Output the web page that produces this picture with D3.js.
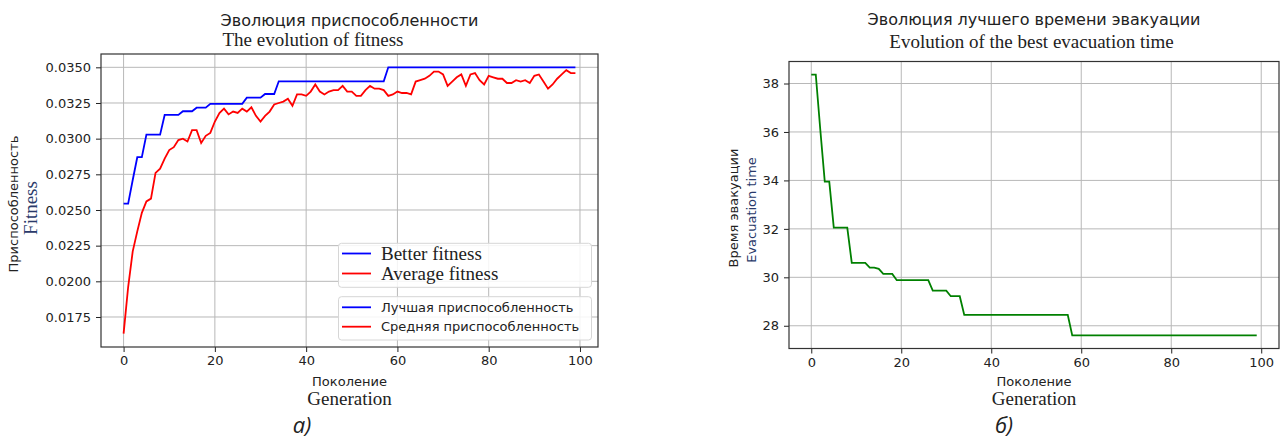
<!DOCTYPE html>
<html lang="ru">
<head>
<meta charset="utf-8">
<title>fitness_evolution</title>
<script src="https://cdn.jsdelivr.net/npm/d3@7"></script>
<style>
    body { margin: 0; background: #fff; }
    svg text { font-family: "DejaVu Sans", sans-serif; fill: #222; }
    .serif { font-family: "Liberation Serif", serif; }
    .tick line { stroke: #222; }
</style>
</head>
<body>
<script>

    // values, one per generation 0..99
    var generations = d3.range(0, 100);

    var bestFitness = [
        0.02545, 0.02545, 0.0271, 0.0287, 0.0287, 0.03028, 0.03028, 0.03028, 0.03028, 0.03166,
        0.03166, 0.03166, 0.03166, 0.03192, 0.03192, 0.03192, 0.03217, 0.03217, 0.03217, 0.03244,
        0.03244, 0.03244, 0.03244, 0.03244, 0.03244, 0.03244, 0.03244, 0.03287, 0.03287, 0.03287,
        0.03287, 0.03313, 0.03313, 0.03313, 0.03402, 0.03402, 0.03402, 0.03402, 0.03402, 0.03402,
        0.03402, 0.03402, 0.03402, 0.03402, 0.03402, 0.03402, 0.03402, 0.03402, 0.03402, 0.03402,
        0.03402, 0.03402, 0.03402, 0.03402, 0.03402, 0.03402, 0.03402, 0.03402, 0.0350, 0.0350,
        0.0350, 0.0350, 0.0350, 0.0350, 0.0350, 0.0350, 0.0350, 0.0350, 0.0350, 0.0350,
        0.0350, 0.0350, 0.0350, 0.0350, 0.0350, 0.0350, 0.0350, 0.0350, 0.0350, 0.0350,
        0.0350, 0.0350, 0.0350, 0.0350, 0.0350, 0.0350, 0.0350, 0.0350, 0.0350, 0.0350,
        0.0350, 0.0350, 0.0350, 0.0350, 0.0350, 0.0350, 0.0350, 0.0350, 0.0350, 0.0350
    ];

    var avgFitness = [
        0.01633, 0.0196, 0.0221, 0.0235, 0.0248, 0.0256, 0.0258, 0.0276, 0.0279, 0.0286,
        0.0292, 0.0294, 0.0299, 0.0300, 0.0298, 0.0306, 0.0306, 0.0297, 0.0302, 0.0304,
        0.0312, 0.0318, 0.0321, 0.0317, 0.0319, 0.0318, 0.0321, 0.0319, 0.0322, 0.0316,
        0.0312, 0.0316, 0.0319, 0.0324, 0.0325, 0.0326, 0.0328, 0.0323, 0.0331, 0.0331,
        0.0330, 0.0333, 0.0338, 0.0333, 0.0331, 0.0333, 0.0334, 0.0334, 0.0337, 0.0333,
        0.0333, 0.0330, 0.0330, 0.0334, 0.0337, 0.0335, 0.0335, 0.0334, 0.0330, 0.0331,
        0.0333, 0.0332, 0.0332, 0.0331, 0.0340, 0.0341, 0.0342, 0.0344, 0.0347, 0.0347,
        0.0345, 0.0337, 0.0340, 0.0343, 0.0345, 0.0337, 0.0345, 0.0346, 0.0341, 0.0338,
        0.0344, 0.0343, 0.0342, 0.0342, 0.0339, 0.0339, 0.0341, 0.0340, 0.0341, 0.0339,
        0.0344, 0.0345, 0.0340, 0.0335, 0.0338, 0.0342, 0.0345, 0.0348, 0.0346, 0.0346
    ];

    var bestTime = [
        38.37, 38.37, 36.1, 33.95, 33.95, 32.05, 32.05, 32.05, 32.05, 30.6,
        30.6, 30.6, 30.6, 30.4, 30.4, 30.35, 30.14, 30.14, 30.14, 29.88,
        29.88, 29.88, 29.88, 29.88, 29.88, 29.88, 29.88, 29.45, 29.45, 29.45,
        29.45, 29.22, 29.22, 29.22, 28.45, 28.45, 28.45, 28.45, 28.45, 28.45,
        28.45, 28.45, 28.45, 28.45, 28.45, 28.45, 28.45, 28.45, 28.45, 28.45,
        28.45, 28.45, 28.45, 28.45, 28.45, 28.45, 28.45, 28.45, 27.6, 27.6,
        27.6, 27.6, 27.6, 27.6, 27.6, 27.6, 27.6, 27.6, 27.6, 27.6,
        27.6, 27.6, 27.6, 27.6, 27.6, 27.6, 27.6, 27.6, 27.6, 27.6,
        27.6, 27.6, 27.6, 27.6, 27.6, 27.6, 27.6, 27.6, 27.6, 27.6,
        27.6, 27.6, 27.6, 27.6, 27.6, 27.6, 27.6, 27.6, 27.6, 27.6
    ];

    var xTicks = [0, 20, 40, 60, 80, 100];
    var fitnessTicks = [0.0175, 0.0200, 0.0225, 0.0250, 0.0275, 0.0300, 0.0325, 0.0350];
    var timeTicks = [28, 30, 32, 34, 36, 38];

    var legendEn = ["Better fitness", "Average fitness"];
    var legendRu = ["Лучшая приспособленность", "Средняя приспособленность"];

    var svg = d3.select("body").append("svg")
        .attr("width", 1280)
        .attr("height", 438);

    // matplotlib style 5% margins
    function padded(ext) {
        var m = (ext[1] - ext[0]) * 0.05;
        return [ext[0] - m, ext[1] + m];
    }

    function panel(box, yDomain, yTicks, yFmt) {
        var x = d3.scaleLinear().domain(padded([0, 99])).range([box.x0, box.x1]);
        var y = d3.scaleLinear().domain(padded(yDomain)).range([box.y1, box.y0]);
        var g = svg.append("g");

        // grid
        g.selectAll("line.vg").data(xTicks).enter().append("line")
            .attr("x1", d => x(d)).attr("x2", d => x(d))
            .attr("y1", box.y0).attr("y2", box.y1)
            .attr("stroke", "#b8b8b8").attr("stroke-width", 1);
        g.selectAll("line.hg").data(yTicks).enter().append("line")
            .attr("x1", box.x0).attr("x2", box.x1)
            .attr("y1", d => y(d)).attr("y2", d => y(d))
            .attr("stroke", "#b8b8b8").attr("stroke-width", 1);

        var ax = g.append("g")
            .attr("transform", "translate(0," + box.y1 + ")")
            .call(d3.axisBottom(x).tickValues(xTicks).tickFormat(d3.format("d"))
                .tickSize(5).tickPadding(4).tickSizeOuter(0));
        var ay = g.append("g")
            .attr("transform", "translate(" + box.x0 + ",0)")
            .call(d3.axisLeft(y).tickValues(yTicks).tickFormat(yFmt)
                .tickSize(5).tickPadding(5).tickSizeOuter(0));
        [ax, ay].forEach(a => {
            a.select(".domain").remove();
            a.selectAll("text").attr("font-size", 13).attr("font-family", "DejaVu Sans").attr("fill", "#222");
        });

        return { g: g, x: x, y: y };
    }

    // ---- left: fitness ----
    var L = { x0: 101, x1: 598, y0: 54, y1: 347 };
    var left = panel(L, [d3.min(avgFitness), d3.max(bestFitness)], fitnessTicks, d3.format(".4f"));

    var lineFit = d3.line().x((d, i) => left.x(generations[i])).y(d => left.y(d));
    left.g.append("path").datum(bestFitness).attr("d", lineFit)
        .attr("fill", "none").attr("stroke", "#0000ff").attr("stroke-width", 1.8);
    left.g.append("path").datum(avgFitness).attr("d", lineFit)
        .attr("fill", "none").attr("stroke", "#ff0000").attr("stroke-width", 1.8);

    left.g.append("rect").attr("x", L.x0).attr("y", L.y0)
        .attr("width", L.x1 - L.x0).attr("height", L.y1 - L.y0)
        .attr("fill", "none").attr("stroke", "#333").attr("stroke-width", 1.2);

    // two stacked legends
    function legend(y0, h, labels, rowY, serif) {
        var lg = svg.append("g");
        lg.append("rect").attr("x", 338.5).attr("y", y0).attr("width", 253).attr("height", h)
            .attr("rx", 3).attr("fill", "#fff").attr("fill-opacity", 0.85)
            .attr("stroke", "#d6d6d6").attr("stroke-width", 1);
        var colors = ["#0000ff", "#ff0000"];
        labels.forEach((t, i) => {
            lg.append("line").attr("x1", 342).attr("x2", 371)
                .attr("y1", rowY[i]).attr("y2", rowY[i])
                .attr("stroke", colors[i]).attr("stroke-width", 1.8);
            lg.append("text").attr("x", 381).attr("y", rowY[i] + (serif ? 6.5 : 4.7))
                .attr("class", serif ? "serif" : null)
                .attr("font-size", serif ? 19 : 13)
                .text(t);
        });
    }
    legend(243.3, 44, legendEn, [253.5, 273.5], true);
    legend(296.7, 43.3, legendRu, [307.3, 326.7], false);

    // ---- right: evacuation time ----
    var R = { x0: 789, x1: 1279, y0: 61.5, y1: 348.5 };
    var right = panel(R, d3.extent(bestTime), timeTicks, d3.format("d"));

    var lineTime = d3.line().x((d, i) => right.x(generations[i])).y(d => right.y(d));
    right.g.append("path").datum(bestTime).attr("d", lineTime)
        .attr("fill", "none").attr("stroke", "#008000").attr("stroke-width", 1.8);

    right.g.append("rect").attr("x", R.x0).attr("y", R.y0)
        .attr("width", R.x1 - R.x0).attr("height", R.y1 - R.y0)
        .attr("fill", "none").attr("stroke", "#333").attr("stroke-width", 1.2);

    // ---- titles and labels ----
    var labels = [
        { t: "Эволюция приспособленности", x: 349.5, y: 26, size: 16, anchor: "middle" },
        { t: "The evolution of fitness", x: 222.5, y: 46, size: 19, serif: true, anchor: "start" },
        { t: "Эволюция лучшего времени эвакуации", x: 1034, y: 25, size: 16, anchor: "middle" },
        { t: "Evolution of the best evacuation time", x: 1031.5, y: 48, size: 19, serif: true, anchor: "middle" },
        { t: "Поколение", x: 349.5, y: 386, size: 13, anchor: "middle" },
        { t: "Generation", x: 349.5, y: 405, size: 19, serif: true, anchor: "middle" },
        { t: "Поколение", x: 1034, y: 386, size: 13, anchor: "middle" },
        { t: "Generation", x: 1034, y: 405, size: 19, serif: true, anchor: "middle" },
        { t: "Приспособленность", x: 18, y: 204, size: 13, anchor: "middle", rot: true },
        { t: "Fitness", x: 37, y: 208, size: 19, serif: true, anchor: "middle", rot: true, color: "#2a3a6a" },
        { t: "Время эвакуации", x: 738, y: 208, size: 13, anchor: "middle", rot: true },
        { t: "Evacuation time", x: 756, y: 210, size: 13, anchor: "middle", rot: true, color: "#2a3a6a" }
    ];
    labels.forEach(d => {
        var t = svg.append("text")
            .attr("x", d.x).attr("y", d.y)
            .attr("font-size", d.size)
            .attr("text-anchor", d.anchor)
            .attr("class", d.serif ? "serif" : null)
            .text(d.t);
        if (d.color) t.style("fill", d.color);
        if (d.rot) t.attr("transform", "rotate(-90," + d.x + "," + d.y + ")");
    });

    // figure captions
    [["а)", 302], ["б)", 1004]].forEach(c => {
        svg.append("text").attr("x", c[1]).attr("y", 433)
            .attr("text-anchor", "middle")
            .attr("font-size", 22).attr("font-style", "italic")
            .style("font-family", "'Open Sans', sans-serif")
            .text(c[0]);
    });

</script>
</body>
</html>
